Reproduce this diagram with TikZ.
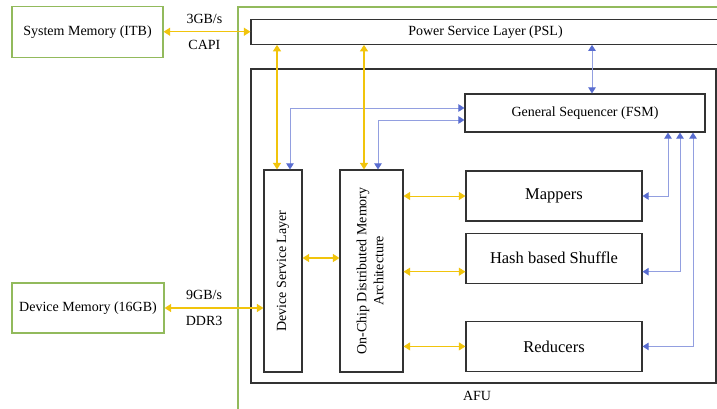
\documentclass[tikz,border=0pt]{standalone}
\usepackage{fontspec}
\setmainfont{Liberation Serif}
\usetikzlibrary{arrows.meta,positioning}
\definecolor{capigold}{RGB}{241,196,12}
\definecolor{fsmblue}{RGB}{88,108,208}
\definecolor{afugreen}{RGB}{146,186,92}
\tikzset{
  block/.style={draw=black!80, line width=1.2pt, fill=white, inner sep=0pt, align=center,
    font=\fontsize{14}{17}\selectfont},
  memblock/.style={block, draw=afugreen, minimum width=151pt, minimum height=51pt},
  tallblock/.style={block, minimum height=202pt},
  unitblock/.style={block, minimum width=176pt, minimum height=50pt,
    font=\fontsize{16.5}{19}\selectfont},
  lbl/.style={inner sep=0pt, text height=10pt, text depth=3pt, font=\fontsize{14}{17}\selectfont},
  yarr/.style={{Triangle[length=6.5pt,width=8pt]}-{Triangle[length=6.5pt,width=8pt]},
    draw=capigold, line width=1.1pt},
  ythin/.style={yarr, line width=1.2pt},
  barr/.style={{Triangle[length=6pt,width=7.5pt,color=fsmblue]}-{Triangle[length=6pt,width=7.5pt,color=fsmblue]},
    draw=fsmblue!65, line width=0.9pt},
  greenframe/.style={draw=afugreen, line width=1.1pt}
}
\begin{document}
\begin{tikzpicture}[x=1pt, y=-1pt]
  \useasboundingbox (0,0) rectangle (717,409);

  % card outline -- only its top and left sides fall inside the picture
  \draw[greenframe] (238,440) |- (740,7);

  % memories on the host side
  \node[memblock] (sysmem) at (87.5,31.75) {System Memory (ITB)};
  \node[memblock, minimum width=152pt, minimum height=50pt] (devmem) at (88,308) {Device Memory (16GB)};

  % PSL bar and AFU body
  \node[block, minimum width=469pt, minimum height=25pt] (psl) at (485.5,31.75) {Power Service Layer (PSL)};
  \node[block, minimum width=465pt, minimum height=314pt] (afu) at (483.5,226) {};
  \node[lbl] (afulabel) at (477,397) {AFU};

  % AFU contents -- two tall columns, sequencer and the three units
  \node[tallblock, minimum width=38pt] (dsl) at (283,271) {\rotatebox{90}{Device Service Layer}};
  \node[tallblock, minimum width=63pt] (ocdma) at (371.5,271)
    {\rotatebox{90}{\begin{tabular}{@{}c@{}}On-Chip Distributed Memory\\Architecture\end{tabular}}};
  \node[block, minimum width=240pt, minimum height=38pt] (fsm) at (585,113) {General Sequencer (FSM)};
  \node[unitblock] (mappers) at (554,196) {Mappers};
  \node[unitblock, below=11pt of mappers] (shuffle) {Hash based Shuffle};
  \node[unitblock, below=37pt of shuffle] (reducers) {Reducers};

  % host links
  \draw[ythin] (sysmem.east) -- (psl.west)
    node[pos=0.47, above=5pt, lbl]{3GB/s} node[pos=0.47, below=7pt, lbl]{CAPI};
  \draw[ythin] (devmem.east) -- (devmem.east -| dsl.west)
    node[pos=0.4, above=5pt, lbl]{9GB/s} node[pos=0.4, below=7pt, lbl]{DDR3};

  % control paths from the sequencer
  \draw[barr] ([yshift=5pt]fsm.west) -| ([xshift=7pt]dsl.north);
  \draw[barr] ([yshift=-7pt]fsm.west) -| ([xshift=6.5pt]ocdma.north);
  \coordinate (fsmtop) at ([xshift=7pt]fsm.north);
  \draw[barr] (fsmtop) -- (fsmtop |- psl.south);
  \draw[barr] ([xshift=83pt]fsm.south) |- (mappers.east);
  \draw[barr] ([xshift=95pt]fsm.south) |- ([yshift=-13.5pt]shuffle.east);
  \draw[barr] ([xshift=108pt]fsm.south) |- (reducers.east);

  % data paths
  \coordinate (dsltop) at ([xshift=-6pt]dsl.north);
  \coordinate (ocdmatop) at ([xshift=-7.5pt]ocdma.north);
  \draw[yarr] (dsltop) -- (dsltop |- psl.south);
  \draw[yarr] (ocdmatop) -- (ocdmatop |- psl.south);
  \draw[yarr, line width=1.4pt] ([yshift=13pt]dsl.east) -- ([yshift=13pt]ocdma.west);
  \coordinate (shufflein) at ([yshift=-13.5pt]shuffle.west);
  \draw[yarr, line width=0.9pt] (mappers.west -| ocdma.east) -- (mappers.west);
  \draw[yarr, line width=0.9pt] (shufflein -| ocdma.east) -- (shufflein);
  \draw[yarr, line width=0.9pt] (reducers.west -| ocdma.east) -- (reducers.west);

\end{tikzpicture}
\end{document}
